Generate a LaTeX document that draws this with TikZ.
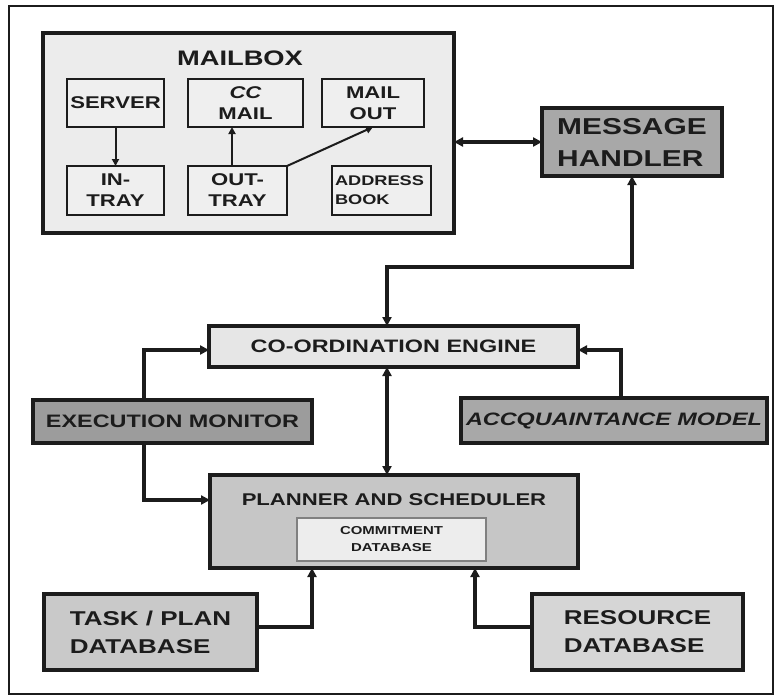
\documentclass[tikz,border=0pt]{standalone}
\usepackage{fontspec}
\newfontfamily\cf{Liberation Sans}[FakeStretch=1.3]
\usetikzlibrary{arrows.meta}
\definecolor{ink}{HTML}{1C1C1C}
\definecolor{mbfill}{HTML}{ECECEC}
\definecolor{inner}{HTML}{EFEFEF}
\definecolor{mhfill}{HTML}{A8A8A8}
\definecolor{cefill}{HTML}{E6E6E6}
\definecolor{emfill}{HTML}{9C9C9C}
\definecolor{amfill}{HTML}{A8A8A8}
\definecolor{psfill}{HTML}{C6C6C6}
\definecolor{cdbfill}{HTML}{EDEDED}
\definecolor{tpfill}{HTML}{C9C9C9}
\definecolor{rdfill}{HTML}{D6D6D6}
\begin{document}
\begin{tikzpicture}[x=1pt,y=-1pt,
  every node/.style={inner sep=0pt, outer sep=0pt, text=ink, font=\cf\bfseries},
  box/.style={draw=ink, rectangle, fill=#1, align=center},
  thin box/.style={box=inner, line width=1.8pt, font=\cf\bfseries\fontsize{17}{21}\selectfont},
  heavy/.style={line width=3.8pt},
  conn/.style={draw=ink, line width=3.6pt, -{Triangle[length=9pt,width=9pt]}},
  biconn/.style={draw=ink, line width=3.6pt, {Triangle[length=9pt,width=9pt]}-{Triangle[length=9pt,width=9pt]}},
  small conn/.style={draw=ink, line width=2pt, -{Triangle[length=7pt,width=7pt]}}
]
\useasboundingbox (0,0) rectangle (776,696);
% outer frame
\draw[ink, line width=2.6pt] (9,6) rectangle (773,694);

% mailbox
\node[box=mbfill, heavy, minimum width=411pt, minimum height=200pt] (mailbox) at (248.5,133) {};
\node[font=\cf\bfseries\fontsize{21}{24}\selectfont] (mbtitle) at (240,58) {MAILBOX};
\node[thin box, minimum width=97pt, minimum height=48pt] (server) at (115.5,103) {SERVER};
\node[thin box, minimum width=115pt, minimum height=48pt] (ccmail) at (245.5,103) {{\itshape CC}\\MAIL};
\node[thin box, minimum width=102pt, minimum height=48pt] (mailout) at (373,103) {MAIL\\OUT};
\node[thin box, minimum width=97pt, minimum height=49pt] (intray) at (115.5,190.5) {IN-\\TRAY};
\node[thin box, minimum width=99pt, minimum height=49pt] (outtray) at (237.5,190.5) {OUT-\\TRAY};
\node[thin box, minimum width=99pt, minimum height=49pt, font=\cf\bfseries\fontsize{14}{19}\selectfont, align=left, text width=93pt] (addr) at (381.5,190.5) {ADDRESS\\BOOK};
\draw[small conn] (server.south) -- (intray.north);
\draw[small conn] ([xshift=-5.5pt]outtray.north) -- ([xshift=-5.5pt]outtray.north |- ccmail.south);
\draw[small conn] (outtray.north east) -- (mailout.south);

% message handler
\node[box=mhfill, heavy, minimum width=180pt, minimum height=68pt, font=\cf\bfseries\fontsize{23}{32}\selectfont, align=left] (mh) at (632,142) {MESSAGE\\HANDLER};
\draw[biconn] (mailbox.east |- mh.west) -- (mh.west);

% coordination engine
\node[box=cefill, heavy, minimum width=369pt, minimum height=41pt, font=\cf\bfseries\fontsize{18}{21}\selectfont] (ce) at (393.5,346.5) {CO-ORDINATION ENGINE};
\coordinate (j1) at (387,267);
\draw[biconn] (mh.south) |- (j1) -- (j1 |- ce.north);

% execution monitor
\node[box=emfill, heavy, minimum width=279pt, minimum height=43pt, font=\cf\bfseries\fontsize{18}{21}\selectfont] (em) at (172.5,421.5) {EXECUTION MONITOR};
% acquaintance model
\node[box=amfill, heavy, minimum width=306pt, minimum height=45pt, font=\cf\bfseries\itshape\fontsize{18}{21}\selectfont] (am) at (614,420.5) {ACCQUAINTANCE MODEL};

% planner and scheduler
\node[box=psfill, heavy, minimum width=368pt, minimum height=93pt] (ps) at (394,521.5) {};
\node[font=\cf\bfseries\fontsize{17}{20}\selectfont] (pstitle) at (394,500) {PLANNER AND SCHEDULER};
\node[box=cdbfill, draw=gray, line width=1.2pt, minimum width=189pt, minimum height=43pt, font=\cf\bfseries\fontsize{11.5}{17}\selectfont] (cdb) at (391.5,539.5) {COMMITMENT\\DATABASE};

\coordinate (c144) at (144,0);
\coordinate (c621) at (621,0);
\coordinate (c312) at (312,0);
\coordinate (c475) at (475,0);
\coordinate (r500) at (0,500);
\coordinate (r350) at (0,350);

\draw[biconn] (j1 |- ce.south) -- (j1 |- ps.north);
\draw[conn] (em.north -| c144) |- (ce.west |- r350);
\draw[conn] (em.south -| c144) |- (ps.west |- r500);
\draw[conn] (am.north -| c621) |- (ce.east |- r350);

% databases
\node[box=tpfill, heavy, minimum width=213pt, minimum height=76pt, font=\cf\bfseries\fontsize{20}{28}\selectfont, align=left] (tp) at (150.5,632) {TASK / PLAN\\DATABASE};
\node[box=rdfill, heavy, minimum width=211pt, minimum height=76pt, font=\cf\bfseries\fontsize{20}{28}\selectfont, align=left] (rd) at (637.5,632) {RESOURCE\\DATABASE};
\coordinate (r627) at (0,627);
\draw[conn] (tp.east |- r627) -| (ps.south -| c312);
\draw[conn] (rd.west |- r627) -| (ps.south -| c475);
\end{tikzpicture}
\end{document}
